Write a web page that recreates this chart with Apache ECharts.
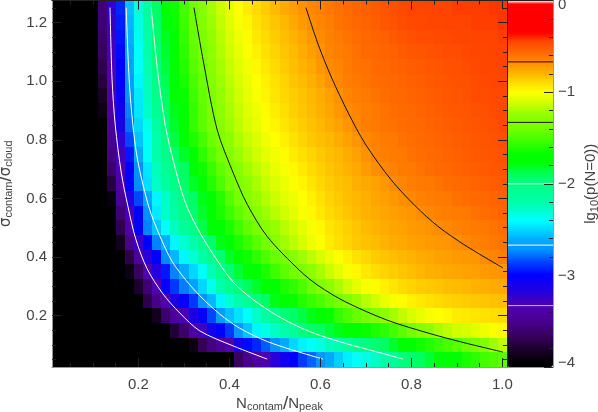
<!DOCTYPE html>
<html>
<head>
<meta charset="utf-8">
<style>html,body{margin:0;padding:0;background:#fff}#chart{width:598px;height:412px}</style>
<script src="https://cdn.jsdelivr.net/npm/echarts@6/dist/echarts.min.js"></script>
</head>
<body>
<div id="chart"></div>
<script>
const xVals = [0.02,0.04,0.06,0.08,0.10,0.12,0.14,0.16,0.18,0.20,0.22,0.24,0.26,0.28,0.30,0.32,0.34,0.36,0.38,0.40,0.42,0.44,0.46,0.48,0.50,0.52,0.54,0.56,0.58,0.60,0.62,0.64,0.66,0.68,0.70,0.72,0.74,0.76,0.78,0.80,0.82,0.84,0.86,0.88,0.90,0.92,0.94,0.96,0.98,1.00];
const yVals = [0.05,0.10,0.15,0.20,0.25,0.30,0.35,0.40,0.45,0.50,0.55,0.60,0.65,0.70,0.75,0.80,0.85,0.90,0.95,1.00,1.05,1.10,1.15,1.20,1.25];

// lg10(p(N=0)), one line per row, bottom row first
const lgP = [
[-4,-4,-4,-4,-4,-4,-4,-4,-4,-4,-4,-4,-4,-4,-4,-4,-4,-4,-4,-3.95,-3.65,-3.5,-3.4,-3.33,-3.2,-3.1,-3.0,-2.87,-2.8,-2.7,-2.62,-2.52,-2.44,-2.38,-2.34,-2.28,-2.2,-2.12,-2.0,-1.96,-1.9,-1.84,-1.78,-1.73,-1.68,-1.62,-1.58,-1.53,-1.5,-1.46],
[-4,-4,-4,-4,-4,-4,-4,-4,-4,-4,-4,-4,-4,-4,-4,-3.88,-3.68,-3.55,-3.45,-3.35,-3.1,-2.98,-2.92,-2.82,-2.72,-2.62,-2.5,-2.43,-2.38,-2.34,-2.25,-2.2,-2.13,-2.05,-2.0,-1.96,-1.9,-1.83,-1.76,-1.7,-1.64,-1.6,-1.55,-1.51,-1.47,-1.42,-1.37,-1.31,-1.22,-1.16],
[-4,-4,-4,-4,-4,-4,-4,-4,-4,-4,-4,-4,-4,-3.78,-3.62,-3.42,-3.28,-3.1,-3.0,-2.88,-2.7,-2.55,-2.42,-2.34,-2.28,-2.2,-2.1,-2.01,-1.94,-1.9,-1.85,-1.8,-1.74,-1.7,-1.66,-1.62,-1.58,-1.52,-1.46,-1.38,-1.31,-1.26,-1.2,-1.16,-1.12,-1.1,-1.07,-1.04,-1.01,-0.98],
[-4,-4,-4,-4,-4,-4,-4,-4,-4,-4,-4,-3.85,-3.62,-3.42,-3.3,-3.15,-3.02,-2.85,-2.68,-2.56,-2.47,-2.38,-2.28,-2.16,-2.06,-1.98,-1.92,-1.86,-1.8,-1.75,-1.66,-1.56,-1.5,-1.44,-1.38,-1.33,-1.27,-1.21,-1.15,-1.1,-1.06,-1.02,-1.0,-0.98,-0.95,-0.94,-0.93,-0.92,-0.91,-0.9],
[-4,-4,-4,-4,-4,-4,-4,-4,-4,-4,-3.72,-3.52,-3.36,-3.15,-3.02,-2.88,-2.72,-2.58,-2.42,-2.3,-2.2,-2.1,-2.0,-1.9,-1.8,-1.72,-1.66,-1.6,-1.55,-1.5,-1.44,-1.38,-1.31,-1.24,-1.17,-1.12,-1.06,-1.02,-0.99,-0.96,-0.94,-0.92,-0.9,-0.88,-0.87,-0.86,-0.85,-0.84,-0.83,-0.82],
[-4,-4,-4,-4,-4,-4,-4,-4,-4,-3.8,-3.6,-3.33,-3.05,-2.88,-2.76,-2.66,-2.5,-2.36,-2.2,-2.08,-2.0,-1.9,-1.83,-1.77,-1.7,-1.62,-1.57,-1.5,-1.42,-1.33,-1.27,-1.2,-1.13,-1.07,-1.02,-0.99,-0.96,-0.93,-0.9,-0.88,-0.86,-0.85,-0.84,-0.82,-0.81,-0.8,-0.79,-0.78,-0.77,-0.76],
[-4,-4,-4,-4,-4,-4,-4,-4,-3.88,-3.65,-3.36,-3.18,-2.95,-2.75,-2.62,-2.5,-2.38,-2.24,-2.06,-1.96,-1.84,-1.77,-1.69,-1.62,-1.54,-1.46,-1.39,-1.33,-1.27,-1.2,-1.13,-1.07,-1.02,-0.98,-0.94,-0.91,-0.88,-0.86,-0.84,-0.82,-0.8,-0.78,-0.77,-0.76,-0.75,-0.74,-0.73,-0.72,-0.71,-0.7],
[-4,-4,-4,-4,-4,-4,-4,-4,-3.72,-3.42,-3.2,-3.0,-2.74,-2.58,-2.42,-2.3,-2.18,-2.06,-1.96,-1.82,-1.73,-1.65,-1.58,-1.5,-1.43,-1.37,-1.3,-1.22,-1.16,-1.1,-1.05,-1.0,-0.96,-0.92,-0.89,-0.86,-0.84,-0.82,-0.8,-0.79,-0.77,-0.76,-0.74,-0.73,-0.72,-0.71,-0.7,-0.67,-0.65,-0.63],
[-4,-4,-4,-4,-4,-4,-4,-3.85,-3.5,-3.25,-3.0,-2.75,-2.6,-2.42,-2.3,-2.2,-2.06,-1.94,-1.8,-1.7,-1.62,-1.55,-1.47,-1.4,-1.3,-1.22,-1.16,-1.1,-1.04,-1.0,-0.95,-0.91,-0.88,-0.85,-0.83,-0.81,-0.79,-0.77,-0.76,-0.74,-0.73,-0.72,-0.71,-0.7,-0.68,-0.66,-0.64,-0.63,-0.61,-0.6],
[-4,-4,-4,-4,-4,-4,-4,-3.7,-3.36,-3.05,-2.75,-2.55,-2.4,-2.25,-2.12,-2.03,-1.87,-1.78,-1.7,-1.62,-1.53,-1.45,-1.37,-1.3,-1.24,-1.17,-1.12,-1.07,-1.02,-0.98,-0.93,-0.9,-0.87,-0.84,-0.81,-0.79,-0.77,-0.75,-0.74,-0.72,-0.71,-0.69,-0.67,-0.66,-0.64,-0.63,-0.62,-0.61,-0.6,-0.58],
[-4,-4,-4,-4,-4,-4,-3.98,-3.6,-3.3,-3.0,-2.72,-2.45,-2.28,-2.15,-2.04,-1.94,-1.83,-1.72,-1.63,-1.54,-1.45,-1.37,-1.3,-1.23,-1.17,-1.12,-1.07,-1.02,-0.98,-0.94,-0.9,-0.87,-0.84,-0.81,-0.79,-0.77,-0.75,-0.73,-0.72,-0.7,-0.68,-0.66,-0.64,-0.63,-0.62,-0.61,-0.59,-0.58,-0.57,-0.55],
[-4,-4,-4,-4,-4,-4,-3.9,-3.45,-3.18,-2.85,-2.63,-2.42,-2.28,-2.13,-2.0,-1.9,-1.8,-1.7,-1.6,-1.48,-1.38,-1.3,-1.24,-1.18,-1.13,-1.08,-1.04,-1.0,-0.96,-0.92,-0.88,-0.85,-0.82,-0.8,-0.78,-0.75,-0.73,-0.71,-0.68,-0.66,-0.64,-0.63,-0.62,-0.61,-0.59,-0.58,-0.57,-0.56,-0.55,-0.54],
[-4,-4,-4,-4,-4,-4,-3.75,-3.38,-3.0,-2.73,-2.48,-2.28,-2.14,-2.03,-1.93,-1.82,-1.7,-1.6,-1.5,-1.4,-1.33,-1.27,-1.2,-1.14,-1.09,-1.05,-1.01,-0.97,-0.93,-0.89,-0.86,-0.83,-0.81,-0.78,-0.76,-0.74,-0.71,-0.67,-0.65,-0.63,-0.62,-0.61,-0.6,-0.58,-0.57,-0.56,-0.55,-0.54,-0.53,-0.52],
[-4,-4,-4,-4,-4,-4,-3.62,-3.32,-3.0,-2.72,-2.46,-2.25,-2.1,-2.0,-1.9,-1.78,-1.65,-1.55,-1.45,-1.36,-1.29,-1.22,-1.16,-1.11,-1.06,-1.02,-0.98,-0.94,-0.9,-0.87,-0.84,-0.81,-0.79,-0.76,-0.72,-0.68,-0.66,-0.64,-0.62,-0.61,-0.6,-0.58,-0.57,-0.56,-0.55,-0.54,-0.53,-0.52,-0.51,-0.5],
[-4,-4,-4,-4,-4,-4,-3.55,-3.28,-2.95,-2.62,-2.38,-2.2,-2.04,-1.94,-1.82,-1.68,-1.58,-1.48,-1.38,-1.3,-1.23,-1.17,-1.12,-1.07,-1.03,-0.99,-0.95,-0.91,-0.88,-0.85,-0.82,-0.8,-0.77,-0.74,-0.69,-0.65,-0.63,-0.62,-0.61,-0.59,-0.58,-0.57,-0.56,-0.55,-0.54,-0.53,-0.52,-0.51,-0.5,-0.49],
[-4,-4,-4,-4,-4,-4,-3.5,-3.22,-2.85,-2.55,-2.38,-2.2,-2.02,-1.86,-1.74,-1.62,-1.52,-1.42,-1.33,-1.26,-1.19,-1.14,-1.09,-1.04,-1.0,-0.96,-0.92,-0.88,-0.85,-0.82,-0.8,-0.77,-0.74,-0.7,-0.66,-0.64,-0.62,-0.61,-0.59,-0.58,-0.57,-0.56,-0.55,-0.54,-0.53,-0.52,-0.51,-0.5,-0.49,-0.48],
[-4,-4,-4,-4,-4,-4,-3.45,-3.15,-2.78,-2.5,-2.35,-2.16,-1.98,-1.82,-1.69,-1.56,-1.46,-1.37,-1.29,-1.22,-1.16,-1.1,-1.06,-1.01,-0.97,-0.93,-0.89,-0.86,-0.83,-0.8,-0.77,-0.74,-0.7,-0.66,-0.63,-0.62,-0.6,-0.59,-0.58,-0.57,-0.56,-0.55,-0.54,-0.53,-0.52,-0.51,-0.5,-0.49,-0.48,-0.46],
[-4,-4,-4,-4,-4,-3.88,-3.4,-3.1,-2.75,-2.46,-2.28,-2.08,-1.94,-1.8,-1.68,-1.56,-1.45,-1.35,-1.27,-1.2,-1.14,-1.08,-1.04,-0.99,-0.95,-0.91,-0.87,-0.84,-0.81,-0.78,-0.75,-0.71,-0.67,-0.65,-0.63,-0.61,-0.6,-0.58,-0.57,-0.56,-0.55,-0.54,-0.53,-0.52,-0.51,-0.5,-0.49,-0.48,-0.47,-0.46],
[-4,-4,-4,-4,-4,-3.82,-3.38,-3.05,-2.69,-2.45,-2.26,-2.05,-1.92,-1.78,-1.66,-1.54,-1.44,-1.33,-1.25,-1.18,-1.12,-1.06,-1.02,-0.97,-0.93,-0.89,-0.86,-0.83,-0.8,-0.77,-0.73,-0.69,-0.65,-0.63,-0.61,-0.6,-0.58,-0.57,-0.56,-0.55,-0.54,-0.53,-0.52,-0.51,-0.5,-0.49,-0.47,-0.47,-0.46,-0.46],
[-4,-4,-4,-4,-4,-3.75,-3.35,-3.02,-2.68,-2.42,-2.25,-2.03,-1.88,-1.76,-1.63,-1.51,-1.42,-1.31,-1.23,-1.16,-1.1,-1.05,-1.0,-0.96,-0.92,-0.88,-0.84,-0.81,-0.78,-0.74,-0.69,-0.66,-0.63,-0.61,-0.6,-0.58,-0.57,-0.56,-0.55,-0.54,-0.53,-0.52,-0.51,-0.5,-0.49,-0.48,-0.47,-0.46,-0.45,-0.45],
[-4,-4,-4,-4,-4,-3.7,-3.33,-3.0,-2.66,-2.4,-2.22,-1.99,-1.85,-1.73,-1.6,-1.48,-1.38,-1.29,-1.21,-1.14,-1.08,-1.03,-0.98,-0.94,-0.9,-0.86,-0.82,-0.79,-0.76,-0.71,-0.67,-0.65,-0.62,-0.6,-0.59,-0.57,-0.56,-0.55,-0.54,-0.53,-0.52,-0.51,-0.5,-0.49,-0.48,-0.47,-0.46,-0.45,-0.45,-0.44],
[-4,-4,-4,-4,-4,-3.66,-3.3,-2.98,-2.63,-2.38,-2.2,-1.97,-1.83,-1.7,-1.58,-1.45,-1.36,-1.27,-1.19,-1.12,-1.06,-1.01,-0.96,-0.92,-0.88,-0.84,-0.81,-0.77,-0.73,-0.69,-0.65,-0.63,-0.61,-0.59,-0.57,-0.56,-0.55,-0.54,-0.52,-0.51,-0.5,-0.49,-0.48,-0.47,-0.47,-0.46,-0.45,-0.45,-0.44,-0.44],
[-4,-4,-4,-4,-4,-3.62,-3.28,-2.96,-2.6,-2.36,-2.18,-1.95,-1.81,-1.68,-1.56,-1.43,-1.34,-1.25,-1.17,-1.1,-1.04,-0.99,-0.94,-0.9,-0.86,-0.82,-0.79,-0.75,-0.71,-0.67,-0.64,-0.62,-0.6,-0.58,-0.56,-0.55,-0.54,-0.52,-0.5,-0.48,-0.47,-0.47,-0.46,-0.46,-0.45,-0.45,-0.44,-0.44,-0.44,-0.43],
[-4,-4,-4,-4,-4,-3.6,-3.25,-2.94,-2.58,-2.34,-2.16,-1.93,-1.79,-1.66,-1.54,-1.41,-1.32,-1.23,-1.15,-1.08,-1.02,-0.97,-0.92,-0.88,-0.84,-0.8,-0.76,-0.72,-0.68,-0.65,-0.63,-0.6,-0.58,-0.56,-0.55,-0.53,-0.51,-0.49,-0.47,-0.46,-0.46,-0.45,-0.45,-0.44,-0.44,-0.44,-0.43,-0.43,-0.43,-0.42],
[-4,-4,-4,-4,-4,-3.58,-3.22,-2.92,-2.56,-2.32,-2.14,-1.92,-1.78,-1.65,-1.52,-1.4,-1.3,-1.21,-1.13,-1.06,-1.0,-0.95,-0.9,-0.86,-0.81,-0.77,-0.73,-0.69,-0.66,-0.64,-0.61,-0.59,-0.57,-0.55,-0.54,-0.52,-0.5,-0.48,-0.46,-0.45,-0.45,-0.44,-0.44,-0.44,-0.43,-0.43,-0.43,-0.43,-0.42,-0.42]
];

// contour levels and their lines, in data units
const levels = [-3.33, -2.67, -2, -1.33, -0.67];
const contour333 = [[.1375,1.251],[.142,1.005],[.149,.85],[.162,.69],[.177,.572],[.194,.462],[.219,.36],[.254,.274],[.291,.209],[.335,.148],[.408,.097],[.483,.052]];
const contour267 = [[.173,1.251],[.181,.971],[.196,.75],[.222,.575],[.247,.472],[.274,.385],[.305,.32],[.335,.268],[.379,.205],[.423,.157],[.483,.112],[.555,.075],[.606,.052]];
const contour200 = [[.228,1.251],[.241,1.049],[.258,.858],[.276,.732],[.302,.59],[.329,.5],[.364,.41],[.408,.315],[.452,.255],[.505,.2],[.555,.16],[.595,.135],[.658,.104],[.711,.082],[.781,.052]];
const contour133 = [[.322,1.251],[.342,1.073],[.373,.834],[.408,.688],[.439,.58],[.483,.47],[.555,.353],[.595,.303],[.654,.248],[.748,.184],[.843,.138],[.918,.107],[1.001,.076]];
const contour067 = [[.568,1.251],[.595,1.125],[.625,1.01],[.661,.892],[.698,.787],[.755,.664],[.808,.575],[.858,.505],[.918,.44],[1.001,.363]];

const xMajor = [0.2,0.4,0.6,0.8,1.0];
const xMinor = [0.05,0.1,0.15,0.25,0.3,0.35,0.45,0.5,0.55,0.65,0.7,0.75,0.85,0.9,0.95];
const yMajor = [0.2,0.4,0.6,0.8,1.0,1.2];
const yMinor = [0.05,0.1,0.15,0.25,0.3,0.35,0.45,0.5,0.55,0.65,0.7,0.75,0.85,0.9,0.95,1.05,1.1,1.15,1.25];
// first and last sit a little inside the bar, as in the original
const barLabelAt = [-3.96,-3,-2,-1,-0.05];

// colour table
const colorStops = [
    [-4,'#000000'],[-3.95,'#000000'],[-3.82,'#180028'],[-3.66,'#380060'],[-3.5,'#480090'],[-3.33,'#5000b0'],
    [-3.17,'#2000e0'],[-3,'#0000ff'],[-2.86,'#0040ff'],[-2.73,'#0090ff'],[-2.6,'#00b0ff'],[-2.4,'#00ffff'],
    [-2.23,'#00ffb0'],[-2.07,'#00ff90'],[-1.9,'#00ff60'],[-1.77,'#00ff00'],[-1.68,'#00ff00'],[-1.61,'#20ff00'],
    [-1.41,'#70ff00'],[-1.25,'#90ff00'],[-1.12,'#d0ff00'],[-1,'#ffff00'],[-0.87,'#ffd000'],[-0.76,'#ffa800'],
    [-0.66,'#ff8800'],[-0.54,'#ff6000'],[-0.43,'#ff4000'],[-0.38,'#ff1000'],[-0.35,'#ff0000'],[-0.04,'#ff0000'],[-0.02,'#ffffff'],[0,'#ffffff']
];

const hexToRgb = (h) => [1, 3, 5].map((i) => parseInt(h.slice(i, i + 2), 16));
const ramp = [];
for (let k = 0; k <= 200; k++) {
    const v = -4 + k * 0.02;
    let s = 0;
    while (s < colorStops.length - 2 && colorStops[s + 1][0] < v) s++;
    const a = colorStops[s], b = colorStops[s + 1];
    const t = Math.min(1, Math.max(0, (v - a[0]) / (b[0] - a[0])));
    const ca = hexToRgb(a[1]), cb = hexToRgb(b[1]);
    ramp.push('rgb(' + ca.map((c, i) => Math.round(c + (cb[i] - c) * t)).join(',') + ')');
}

const cells = [];
lgP.forEach((row, j) => row.forEach((v, i) => cells.push([xVals[i], yVals[j], v])));

const renderCell = (params, api) => {
    const x = api.value(0), y = api.value(1);
    const a = api.coord([x - 0.01, y + 0.025]);
    const b = api.coord([x + 0.01, y - 0.025]);
    const l = Math.round(a[0]), t = Math.round(a[1]);
    return {
        type: 'rect',
        shape: { x: l, y: t, width: Math.round(b[0]) - l, height: Math.round(b[1]) - t },
        style: { fill: api.visual('color') }
    };
};

const font = 'Liberation Sans';
const textColor = '#444';
const tickColor = '#222';
const frameGrey = '#999';
const plotRect = { left: 52, top: 0.5, width: 455, height: 366.5, outerBoundsMode: 'none' };
const barRect = { left: 507, top: 0.5, width: 46, height: 366.5, outerBoundsMode: 'none' };

const nameStyle = (gapTop) => ({
    fontFamily: font,
    color: textColor,
    rich: {
        n: { fontFamily: font, fontSize: 15, color: textColor },
        g: { fontFamily: 'DejaVu Sans', fontSize: 15, color: textColor },
        s: { fontFamily: font, fontSize: 11, color: textColor, padding: [gapTop, 0, 0, 0] },
        l: { fontFamily: font, fontSize: 19, color: textColor }
    }
});

const valueAxis = (gridIndex, position, min, max, lineColor, ticks, tickLength, extra) => Object.assign({
    type: 'value',
    gridIndex, position, min, max,
    z: 5,
    splitLine: { show: false },
    axisLine: { show: true, onZero: false, lineStyle: { color: lineColor, width: 1 } },
    axisTick: { show: true, inside: true, length: tickLength, customValues: ticks, lineStyle: { color: tickColor, width: 1 } },
    axisLabel: { show: false }
}, extra || {});

const chart = echarts.init(document.getElementById('chart'), null, { renderer: 'canvas' });
chart.setOption({
    animation: false,
    backgroundColor: '#fff',
    grid: [plotRect, plotRect, barRect],
    visualMap: {
        type: 'continuous',
        min: -4,
        max: 0,
        seriesIndex: 0,
        dimension: 2,
        inRange: { color: ramp },
        left: barRect.left,
        top: barRect.top,
        itemWidth: barRect.width,
        itemHeight: barRect.height,
        padding: 0,
        text: null,
        calculable: false,
        hoverLink: false,
        z: 1
    },
    xAxis: [
        valueAxis(0, 'bottom', 0.01, 1.01, frameGrey, xMajor, 9, {
            axisLabel: {
                show: true, customValues: xMajor, margin: 10,
                fontFamily: font, fontSize: 15, color: textColor,
                formatter: (v) => v.toFixed(1)
            },
            name: '{n|N}{s|contam}{l|/}{n|N}{s|peak}',
            nameLocation: 'middle',
            nameGap: 27,
            nameMoveOverlap: false,
            nameTextStyle: nameStyle(7)
        }),
        valueAxis(0, 'top', 0.01, 1.01, tickColor, xMajor, 9),
        valueAxis(1, 'bottom', 0.01, 1.01, frameGrey, xMinor, 4),
        valueAxis(1, 'top', 0.01, 1.01, tickColor, xMinor, 4),
        { type: 'value', gridIndex: 2, position: 'bottom', min: 0, max: 1, z: 5, splitLine: { show: false }, axisTick: { show: false }, axisLabel: { show: false },
          axisLine: { show: true, onZero: false, lineStyle: { color: frameGrey } } },
        { type: 'value', gridIndex: 2, position: 'top', min: 0, max: 1, z: 5, splitLine: { show: false }, axisTick: { show: false }, axisLabel: { show: false },
          axisLine: { show: true, onZero: false, lineStyle: { color: tickColor } } }
    ],
    yAxis: [
        valueAxis(0, 'left', 0.025, 1.275, frameGrey, yMajor, 9, {
            axisLabel: {
                show: true, customValues: yMajor, margin: 5,
                fontFamily: font, fontSize: 15, color: textColor,
                formatter: (v) => v.toFixed(1)
            },
            name: '{g|σ}{s|contam}{l|/}{g|σ}{s|cloud}',
            nameLocation: 'middle',
            nameRotate: 90,
            nameGap: 25,
            nameTextStyle: nameStyle(7)
        }),
        valueAxis(0, 'right', 0.025, 1.275, tickColor, yMajor, 9),
        valueAxis(1, 'left', 0.025, 1.275, frameGrey, yMinor, 4),
        valueAxis(1, 'right', 0.025, 1.275, tickColor, yMinor, 4),
        {
            type: 'value', gridIndex: 2, position: 'right', min: -4, max: 0, interval: 1, z: 5,
            splitLine: { show: false },
            axisLine: { show: true, onZero: false, lineStyle: { color: frameGrey } },
            axisTick: { show: true, inside: true, length: 9, lineStyle: { color: tickColor } },
            minorTick: { show: true, splitNumber: 5, length: 4, lineStyle: { color: tickColor } },
            axisLabel: {
                show: true, margin: 5, customValues: barLabelAt, fontFamily: font, fontSize: 15, color: textColor,
                formatter: (v) => (Math.round(v) === 0 ? '0' : '−' + Math.abs(Math.round(v)))
            },
            name: '{n|lg}{s|10}{n|(p(N=0))}',
            nameLocation: 'middle',
            nameRotate: 90,
            nameGap: 29,
            nameTextStyle: nameStyle(7)
        }
    ],
    series: [
        { type: 'custom', xAxisIndex: 0, yAxisIndex: 0, data: cells, renderItem: renderCell, encode: { x: 0, y: 1 }, silent: true, z: 2, clip: true },
        ...[[contour333, '#fff'], [contour267, '#fff'], [contour200, '#fff'], [contour133, '#111'], [contour067, '#111']].map(([data, color]) => ({
            type: 'line', xAxisIndex: 0, yAxisIndex: 0, data, smooth: 0.3, symbol: 'none', silent: true, z: 3,
            lineStyle: { color, width: 1 }
        })),
        ...levels.map((lv, i) => ({
            type: 'line', xAxisIndex: 4, yAxisIndex: 4, data: [[0, lv], [1, lv]], symbol: 'none', silent: true, z: 3,
            lineStyle: { color: i < 3 ? '#fff' : '#111', width: 1, opacity: i === 0 ? 0.7 : 1 }
        }))
    ]
});
</script>
</body>
</html>
